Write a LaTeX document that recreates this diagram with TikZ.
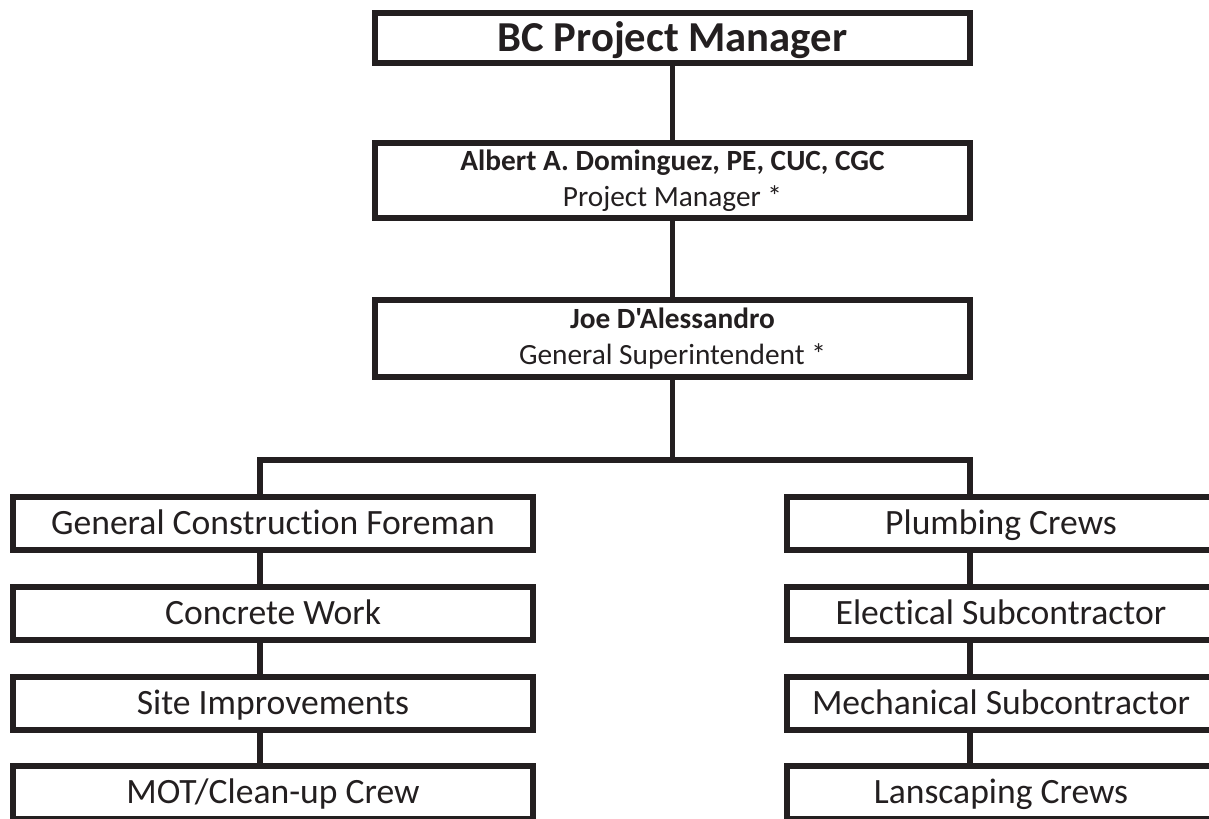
\documentclass[tikz,border=0pt]{standalone}
\usepackage{fontspec}
\setmainfont{Carlito}[Ligatures={NoCommon,TeXOff}]
\definecolor{ink}{RGB}{35,31,32}
\begin{document}
\begin{tikzpicture}[x=0.75pt,y=-0.75pt,
  box/.style={draw=ink,line width=4.4pt,rectangle,inner sep=0pt,text=ink,align=center},
  leftbox/.style={box,text height=17.2pt,text depth=0pt,minimum width=390pt,minimum height=39.75pt,font=\fontsize{26.7}{32}\selectfont},
  rightbox/.style={box,text height=17.2pt,text depth=0pt,minimum width=321pt,minimum height=39.75pt,font=\fontsize{26.7}{32}\selectfont},
  topbox/.style={box,minimum width=446.25pt},
  link/.style={draw=ink,line width=4.4pt}]
\useasboundingbox (0,0) rectangle (1209,818);
\clip (0,0) rectangle (1209,818);
% top chain
\node[topbox,text height=20.6pt,text depth=0pt,minimum height=37.5pt,font=\bfseries\fontsize{32}{36}\selectfont] (bc) at (672.5,38) {BC Project Manager};
\node[topbox,minimum height=56.25pt,font=\fontsize{22}{27}\selectfont] (adm) at (672.5,180.5)
  {{\bfseries Albert A. Dominguez, PE, CUC, CGC}\\Project Manager *};
\node[topbox,minimum height=57.75pt,font=\fontsize{22}{27}\selectfont] (joe) at (672.5,338.5)
  {{\bfseries Joe D'Alessandro}\\General Superintendent *};
% left column
\node[leftbox] (gcf) at (273,523.5) {General Construction Foreman};
\node[leftbox] (cw)  at (273,613.5) {Concrete Work};
\node[leftbox] (si)  at (273,703.5) {Site Improvements};
\node[leftbox] (mot) at (273,792.5) {MOT/Clean-up Crew};
% right column
\node[rightbox] (pc) at (1001,523.5) {Plumbing Crews};
\node[rightbox] (es) at (1001,613.5) {Electical Subcontractor};
\node[rightbox] (ms) at (1001,703.5) {Mechanical Subcontractor};
\node[rightbox] (lc) at (1001,792.5) {Lanscaping Crews};
% connectors
\coordinate (barL) at (260,460);
\coordinate (barR) at (970,460);
\draw[link] (bc.south) -- (adm.north);
\draw[link] (adm.south) -- (joe.north);
\draw[link] (joe.south) -- (joe.south |- barL);
\draw[link,line cap=rect] (barL) -- (barR);
\draw[link] (barL) -- (barL |- gcf.north);
\draw[link] (barR) -- (barR |- pc.north);
\draw[link] (barL |- gcf.south) -- (barL |- cw.north);
\draw[link] (barL |- cw.south) -- (barL |- si.north);
\draw[link] (barL |- si.south) -- (barL |- mot.north);
\draw[link] (barR |- pc.south) -- (barR |- es.north);
\draw[link] (barR |- es.south) -- (barR |- ms.north);
\draw[link] (barR |- ms.south) -- (barR |- lc.north);
\end{tikzpicture}
\end{document}
